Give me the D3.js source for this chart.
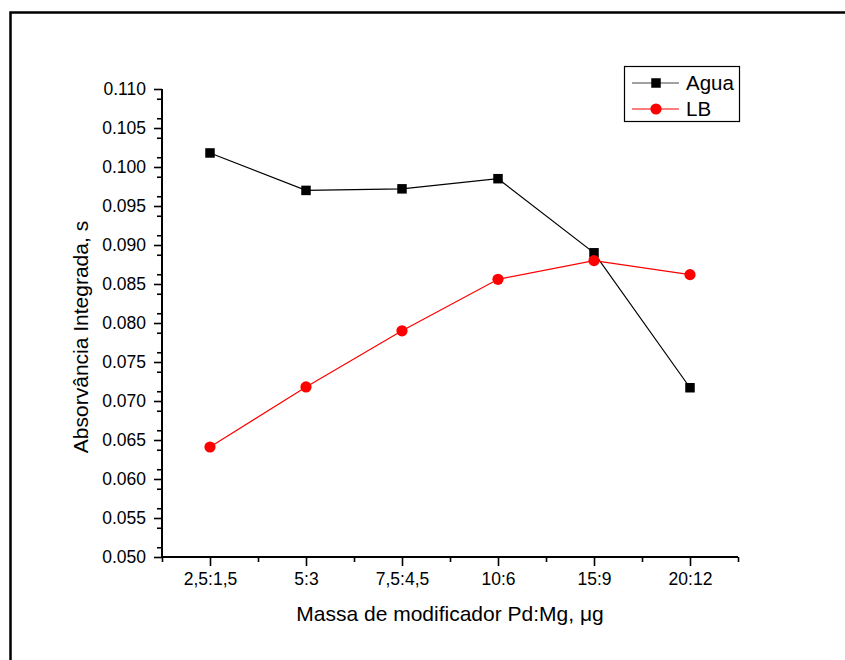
<!DOCTYPE html>
<html>
<head>
<meta charset="utf-8">
<script src="https://cdn.jsdelivr.net/npm/d3@7/dist/d3.min.js"></script>
<style>
  body { margin: 0; background: #fff; }
  svg { display: block; }
  text { font-family: "Liberation Sans", Arial, sans-serif; fill: #000; }
</style>
</head>
<body>
<svg id="chart" width="845" height="660"></svg>
<script>
// Data
const categories = ["2,5:1,5", "5:3", "7,5:4,5", "10:6", "15:9", "20:12"];
const aguaValues = [0.1018, 0.0970, 0.0972, 0.0985, 0.0890, 0.0717];
const lbValues   = [0.0641, 0.0718, 0.0790, 0.0856, 0.0880, 0.0862];
const yTicks = [0.050, 0.055, 0.060, 0.065, 0.070, 0.075, 0.080, 0.085, 0.090, 0.095, 0.100, 0.105, 0.110];
const seriesNames = ["Agua", "LB"];

const svg = d3.select("#chart");

// Figure border
svg.append("rect")
  .attr("x", 10.5).attr("y", 12.5)
  .attr("width", 900).attr("height", 700)
  .attr("fill", "none").attr("stroke", "#000").attr("stroke-width", 2.5);

const pLeft = 162, pRight = 738, pTop = 89, pBottom = 557;

const x = d3.scalePoint().domain(categories).range([pLeft, pRight]).padding(0.5);
const y = d3.scaleLinear().domain([0.05, 0.11]).range([pBottom, pTop]);

// Minor ticks
const step = x.step();
const xMinor = d3.range(0, categories.length + 1).map(i => pLeft + i * step);
const xMinorScale = d3.scaleLinear().domain([pLeft, pRight]).range([pLeft, pRight]);
svg.append("g")
  .attr("transform", `translate(0,${pBottom})`)
  .call(d3.axisBottom(xMinorScale).tickValues(xMinor).tickSize(5).tickFormat(""))
  .call(g => g.select(".domain").remove())
  .selectAll("line").attr("stroke-width", 1.6);

const yMinor = d3.range(0, 25).map(i => 0.05 + 0.0025 * i + 0.00125).filter(v => v < 0.11);
svg.append("g")
  .attr("transform", `translate(${pLeft},0)`)
  .call(d3.axisLeft(y).tickValues(yMinor).tickSize(5).tickFormat(""))
  .call(g => g.select(".domain").remove())
  .selectAll("line").attr("stroke-width", 1.6);

// Major axes
const xAxis = svg.append("g")
  .attr("transform", `translate(0,${pBottom})`)
  .call(d3.axisBottom(x).tickSize(9).tickPadding(7).tickSizeOuter(0));
xAxis.select(".domain").attr("stroke-width", 2).attr("d", `M${pLeft},0H${pRight}`);
xAxis.selectAll(".tick line").attr("stroke-width", 1.6);
xAxis.selectAll("text").style("font-size", "17.5px").attr("fill", "#000");

const yAxis = svg.append("g")
  .attr("transform", `translate(${pLeft},0)`)
  .call(d3.axisLeft(y).tickValues(yTicks).tickFormat(d3.format(".3f")).tickSize(8).tickPadding(8).tickSizeOuter(0));
yAxis.select(".domain").attr("stroke-width", 2).attr("d", `M0,${pBottom}V${pTop}`);
yAxis.selectAll(".tick line").attr("stroke-width", 1.6);
yAxis.selectAll("text").style("font-size", "17.5px").attr("fill", "#000");

// Axis titles
svg.append("text")
  .attr("x", (pLeft + pRight) / 2).attr("y", 621)
  .attr("text-anchor", "middle")
  .style("font-size", "21px")
  .text("Massa de modificador Pd:Mg, \u03bcg");

svg.append("text")
  .attr("transform", `translate(88,337) rotate(-90)`)
  .attr("text-anchor", "middle")
  .style("font-size", "21px")
  .text("Absorvância Integrada, s");

// Lines
const line = d3.line().x((d, i) => x(categories[i])).y(d => y(d));

svg.append("path").datum(aguaValues)
  .attr("d", line).attr("fill", "none").attr("stroke", "#000").attr("stroke-width", 1.2);
svg.append("path").datum(lbValues)
  .attr("d", line).attr("fill", "none").attr("stroke", "#ff0000").attr("stroke-width", 1.2);

// Markers
const sq = 9.5;
svg.selectAll(".sq").data(aguaValues).enter().append("rect")
  .attr("x", (d, i) => x(categories[i]) - sq / 2)
  .attr("y", d => y(d) - sq / 2)
  .attr("width", sq).attr("height", sq).attr("fill", "#000");

svg.selectAll(".ci").data(lbValues).enter().append("circle")
  .attr("cx", (d, i) => x(categories[i]))
  .attr("cy", d => y(d))
  .attr("r", 5.6).attr("fill", "#ff0000");

// Legend
const lg = svg.append("g");
lg.append("rect").attr("x", 624.5).attr("y", 66.5).attr("width", 115).attr("height", 55)
  .attr("fill", "#fff").attr("stroke", "#000").attr("stroke-width", 1.2);
const rows = [83, 109];
const colors = ["#000", "#ff0000"];
seriesNames.forEach((name, i) => {
  lg.append("line").attr("x1", 632).attr("x2", 679).attr("y1", rows[i]).attr("y2", rows[i])
    .attr("stroke", i === 0 ? "#444" : colors[i]).attr("stroke-width", 1.2);
  if (i === 0) {
    lg.append("rect").attr("x", 656 - sq / 2).attr("y", rows[i] - sq / 2)
      .attr("width", sq).attr("height", sq).attr("fill", "#000");
  } else {
    lg.append("circle").attr("cx", 656).attr("cy", rows[i]).attr("r", 5.6).attr("fill", "#ff0000");
  }
  lg.append("text").attr("x", 686).attr("y", rows[i]).attr("dy", "0.36em")
    .style("font-size", "20.5px").text(name);
});
</script>
</body>
</html>
